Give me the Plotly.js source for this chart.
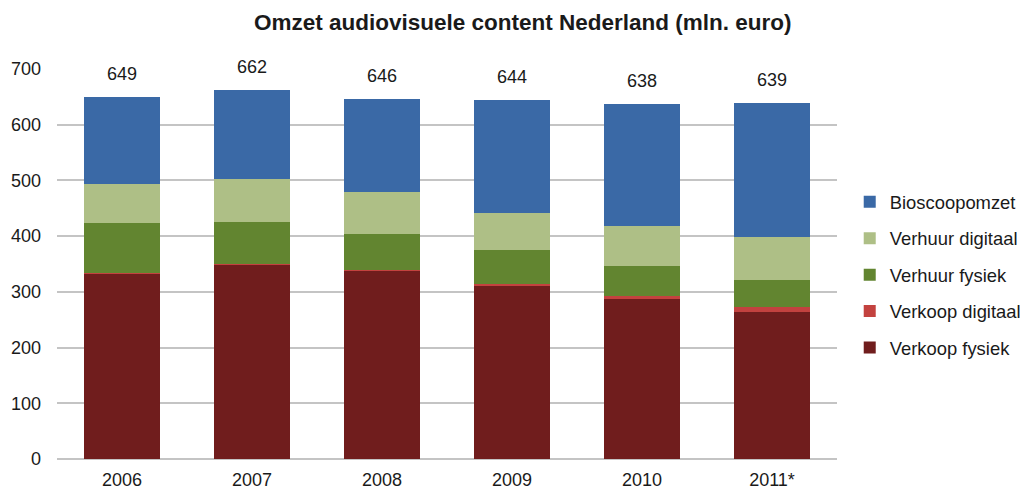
<!DOCTYPE html>
<html>
<head>
<meta charset="utf-8">
<script src="https://cdn.plot.ly/plotly-3.0.1.min.js"></script>
<style>html,body{margin:0;padding:0;background:#fff;}#chart{width:1025px;height:490px;}</style>
</head>
<body>
<div id="chart"></div>
<script>
const years = ["2006", "2007", "2008", "2009", "2010", "2011*"];
const verkoopFysiek = [332, 349, 338, 311, 287, 263];
const verkoopDigitaal = [1, 1, 2, 4, 6, 9];
const verhuurFysiek = [91, 76, 64, 60, 54, 50];
const verhuurDigitaal = [69, 76, 76, 67, 72, 77];
const bioscoop = [156, 160, 166, 202, 219, 240];
const totals = [649, 662, 646, 644, 638, 639];

const seriesNames = ["Verkoop fysiek", "Verkoop digitaal", "Verhuur fysiek", "Verhuur digitaal", "Bioscoopomzet"];
const seriesValues = [verkoopFysiek, verkoopDigitaal, verhuurFysiek, verhuurDigitaal, bioscoop];
const seriesColors = ["#701d1d", "#c3423f", "#628530", "#aebf86", "#3a69a6"];

const font = "Liberation Sans, Arial, sans-serif";

const traces = seriesNames.map((n, i) => ({
  type: "bar",
  name: n,
  x: years,
  y: seriesValues[i],
  legendgroup: "g" + i,
  legendrank: seriesNames.length - i,
  marker: { color: seriesColors[i], line: { width: 0 } },
  hoverinfo: "x+y+name"
}));

// annotation x given as category index so it is not read as a numeric position
const annotations = years.map((yr, i) => ({
  x: i, y: totals[i], xref: "x", yref: "y",
  text: String(totals[i]), showarrow: false,
  yanchor: "bottom", yshift: 9,
  bgcolor: "#ffffff", borderpad: 3,
  font: { family: font, size: 18, color: "#1a1a1a" }
}));

const layout = {
  width: 1025, height: 490,
  margin: { l: 57, r: 188, t: 69, b: 31 },
  paper_bgcolor: "#ffffff", plot_bgcolor: "#ffffff",
  barmode: "stack",
  bargap: 0.42,
  title: {
    text: "<b>Omzet audiovisuele content Nederland (mln. euro)</b>",
    x: 0.51, xanchor: "center", y: 0.955, yanchor: "middle",
    font: { family: font, size: 22.5, color: "#1a1a1a" }
  },
  xaxis: {
    type: "category",
    autorange: false, range: [-0.5, 5.5],
    showgrid: false, zeroline: false, showline: false,
    ticks: "",
    ticklabelstandoff: 8,
    tickfont: { family: font, size: 18, color: "#1a1a1a" }
  },
  yaxis: {
    range: [0, 700], autorange: false, dtick: 100,
    showgrid: true, gridcolor: "#c4c4c4", gridwidth: 2,
    zeroline: true, zerolinecolor: "#c4c4c4", zerolinewidth: 2,
    showline: false, ticks: "",
    ticklabelstandoff: 15,
    tickfont: { family: font, size: 18, color: "#1a1a1a" }
  },
  legend: {
    xref: "container", yref: "container",
    x: 0.829, xanchor: "left", y: 0.439, yanchor: "middle",
    traceorder: "grouped", tracegroupgap: 9.5,
    bgcolor: "rgba(255,255,255,0)",
    font: { family: font, size: 18.4, color: "#1a1a1a" },
    itemwidth: 30
  },
  annotations: annotations,
  showlegend: true
};

Plotly.newPlot("chart", traces, layout, { displayModeBar: false, staticPlot: true });
</script>
</body>
</html>
